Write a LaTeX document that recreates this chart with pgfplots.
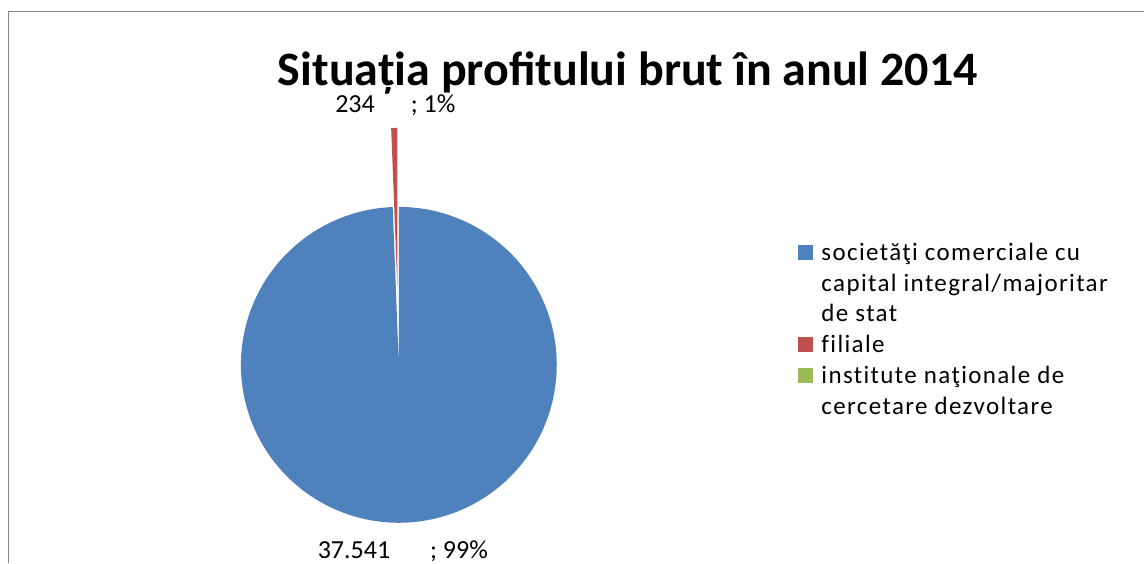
\documentclass[border=0pt]{standalone}
\usepackage{pgfplots}
\pgfplotsset{compat=1.18}
\usepackage{pgfplotstable}
\usepackage{fontspec}
\setmainfont{Carlito}
\newfontfamily\legfont[LetterSpace=5.5, Ligatures=NoCommon]{Carlito}
\definecolor{cBlue}{HTML}{4F81BD}
\definecolor{cRed}{HTML}{C0504D}
\definecolor{cGreen}{HTML}{9BBB59}
\definecolor{cFrame}{HTML}{868686}

% profit brut 2014 (mil. lei)
\pgfplotstableread{
val
37541
234
0
}\piedata
\pgfplotstablegetelem{0}{val}\of\piedata \let\vA\pgfplotsretval
\pgfplotstablegetelem{1}{val}\of\piedata \let\vB\pgfplotsretval
\pgfplotstablegetelem{2}{val}\of\piedata \let\vC\pgfplotsretval
\edef\tot{\fpeval{\vA+\vB+\vC}}
\edef\aA{\fpeval{round(90-360*\vA/\tot,4)}}
\edef\aB{\fpeval{round(\aA-360*\vB/\tot,4)}}
\edef\mB{\fpeval{(\aA+\aB)/2}}
\edef\ex{\fpeval{round(399+79*cosd(\mB),3)}}
\edef\ey{\fpeval{round(198+79*sind(\mB),3)}}

\begin{document}
\begin{tikzpicture}
\begin{axis}[
  x=0.5pt, y=0.5pt,
  xmin=0, xmax=1144, ymin=0, ymax=563,
  hide axis, clip=false,
  legend image code/.code={\fill[#1] (0pt,0.2pt) rectangle (7.6pt,7.8pt);},
  legend cell align=left,
  legend style={draw=none, fill=none, at={(axis cs:798,325)}, anchor=north west,
    font=\legfont\fontsize{12.5}{15}\selectfont, inner sep=0pt, row sep=0.9pt,
    column sep=2.1pt,
    cells={anchor=base west, inner sep=0pt, text height=9pt, text depth=3pt}},
]
\path (axis cs:0,0) rectangle (axis cs:1144,563);
\draw[cFrame, line width=0.5pt] (axis cs:9,0) -- (axis cs:9,551) -- (axis cs:1144,551);

\addplot[draw=none, fill=cBlue, domain=\aA:90, samples=240, variable=\t]
  ({399+158*cos(\t)},{198+158*sin(\t)}) -- (axis cs:399,198) -- cycle;
\addlegendentry{societăţi comerciale cu}
\addlegendimage{empty legend}
\addlegendentry{capital integral/majoritar}
\addlegendimage{empty legend}
\addlegendentry{de stat}
\addplot[draw=none, fill=cRed, domain=\aB:\aA, samples=5, variable=\t]
  ({\ex+158*cos(\t)},{\ey+158*sin(\t)}) -- (axis cs:\ex,\ey) -- cycle;
\addlegendentry{filiale}
\addlegendimage{draw=none, fill=cGreen}
\addlegendentry{institute naţionale de}
\addlegendimage{empty legend}
\addlegendentry{cercetare dezvoltare}

\node[anchor=base, inner sep=0pt, font=\bfseries\fontsize{24}{28}\selectfont] at (axis cs:628,477) {Situația profitului brut în anul 2014};
\node[anchor=base, inner sep=0pt, font=\fontsize{13}{15}\selectfont] at (axis cs:395.5,450.7) {234\hspace{18pt}; 1\%};
\node[anchor=base, inner sep=0pt, font=\fontsize{13}{15}\selectfont] at (axis cs:403,4.7) {37.541\hspace{20pt}; 99\%};
\end{axis}
\end{tikzpicture}
\end{document}
